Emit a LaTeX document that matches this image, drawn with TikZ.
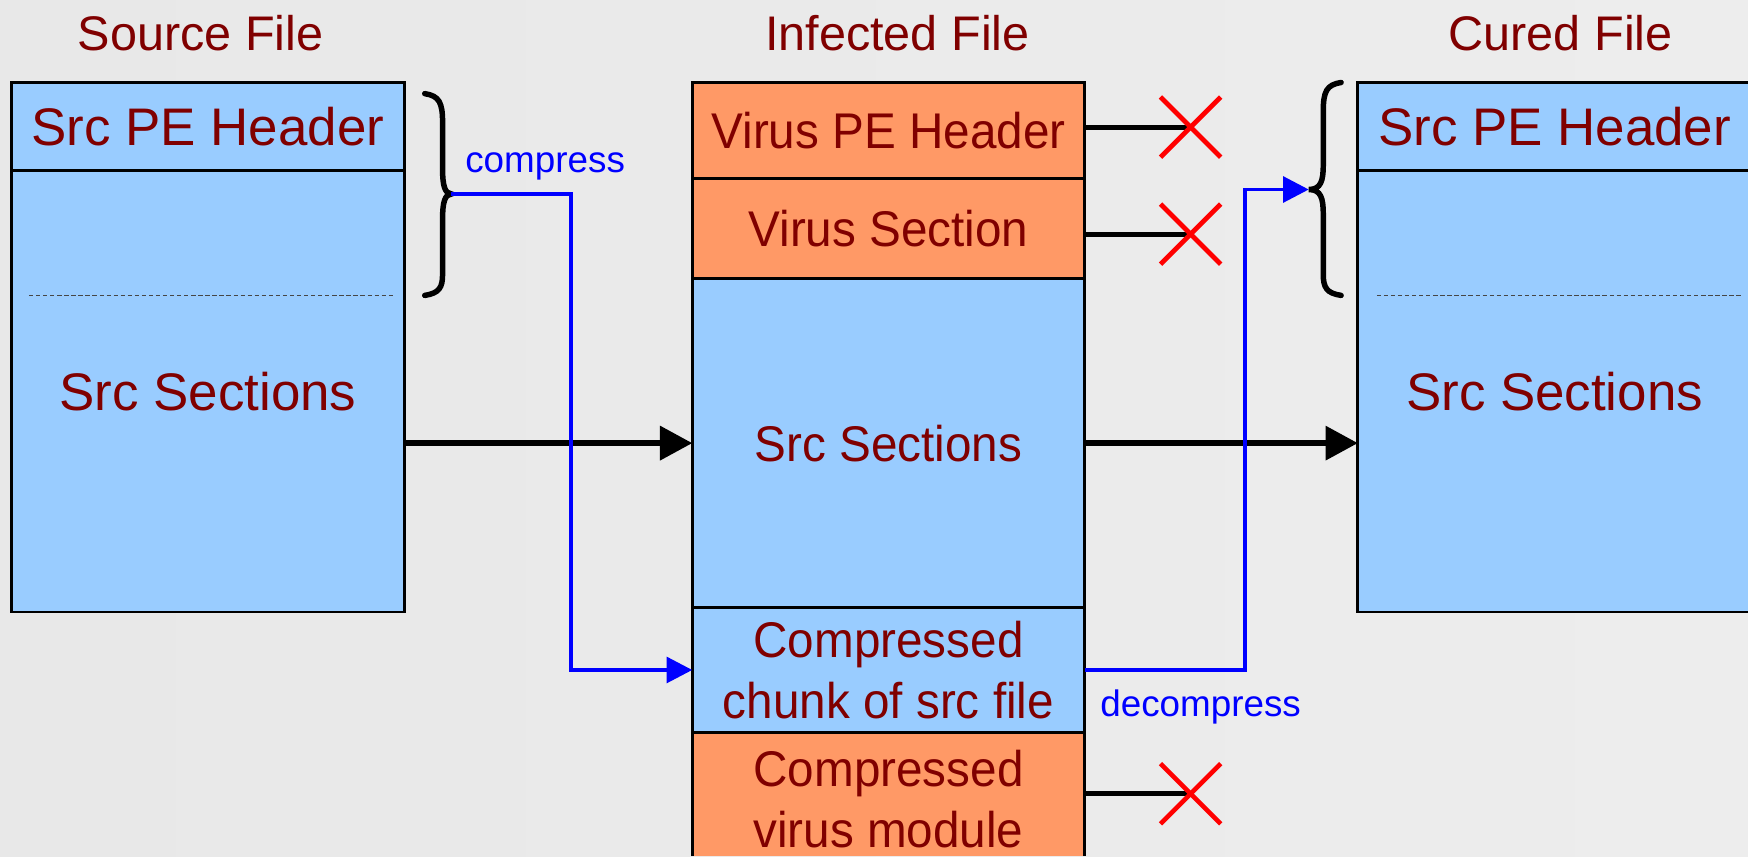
\documentclass[tikz,border=0pt]{standalone}
\usepackage{fontspec}
\setmainfont{Liberation Sans}
\newfontfamily\narrowfont[FakeStretch=0.95]{Liberation Sans}
\usetikzlibrary{arrows.meta,calc}
\definecolor{boxblue}{RGB}{153,204,255}
\definecolor{boxorange}{RGB}{255,153,102}
\definecolor{txtred}{RGB}{128,0,0}
\definecolor{bgl}{RGB}{232,232,232}
\definecolor{bgm}{RGB}{245,245,245}
\definecolor{bgr}{RGB}{237,237,237}
\newcommand\partfont{\fontsize{13.5}{15.6}\selectfont}
\newcommand\midfont{\narrowfont\fontsize{12.8}{15.6}\selectfont}
\newcommand\titlefont{\fontsize{12.4}{14}\selectfont}
\newcommand\labfont{\fontsize{9.4}{11}\selectfont}
\begin{document}
\begin{tikzpicture}[x=0.1mm,y=-0.1mm,
  part/.style={draw=black,line width=0.7pt,minimum width=35.3mm,inner sep=0pt,
    outer sep=0pt,anchor=north west,align=center,text=txtred,font=\partfont},
  bluepart/.style={part,fill=boxblue},
  orangepart/.style={part,fill=boxorange},
  midblue/.style={bluepart,minimum width=35.2mm,font=\midfont},
  midorange/.style={orangepart,minimum width=35.2mm,font=\midfont},
  title/.style={text=txtred,font=\titlefont,inner sep=0pt},
  lab/.style={text=blue,font=\labfont,inner sep=0pt},
  mainarrow/.style={line width=1.4pt,-{Triangle[length=2.9mm,width=3mm]}},
  bluearrow/.style={blue,line width=1pt,-{Triangle[length=2.3mm,width=2.3mm]}},
  cut/.style={line width=1.3pt},
  cross/.style={red,line width=1.2pt},
  brace/.style={line width=1.4pt,line cap=round},
  sepline/.style={dash pattern=on 1.1pt off 0.7pt,gray!55!black,line width=0.35pt}]
\useasboundingbox (0,0) rectangle (1568,768);
\clip (0,0) rectangle (1568,768);
\shade[left color=bgl,middle color=bgm,right color=bgr] (0,0) rectangle (1568,768);

% titles
\node[title] (t1) at (180,30) {Source File};
\node[title] (t2) at (805,30) {Infected File};
\node[title] (t3) at (1400,30) {Cured File};

% source file
\node[bluepart,minimum height=7.9mm] (lh) at (10,74) {Src PE Header};
\node[bluepart,minimum height=39.6mm] (lb) at (10,153) {Src Sections};
\draw[sepline] (26,265) -- (353,265);

% infected file
\node[midorange,minimum height=8.6mm] (mh) at (621,74) {Virus PE Header};
\node[midorange,minimum height=9mm] (ms) at (621,160) {Virus Section};
\node[midblue,minimum height=29.5mm] (msrc) at (621,250) {Src Sections};
\node[midblue,minimum height=11.2mm] (mc) at (621,545) {Compressed\\chunk of src file};
\node[midorange,draw=none,minimum height=11.1mm] (mv) at (621,657) {};
\draw[line width=0.7pt] (mv.south west) -- (mv.north west) -- (mv.north east) -- (mv.south east);
\node[text=txtred,font=\midfont,align=center,inner sep=0pt] (mvt) at (797,717) {Compressed\\virus module};

% cured file
\node[bluepart,minimum height=7.9mm] (rh) at (1218,74) {Src PE Header};
\node[bluepart,minimum height=39.6mm] (rb) at (1218,153) {Src Sections};
\draw[sepline] (1235,265) -- (1562,265);

% braces
\coordinate (bL) at (405,174);
\coordinate (bR) at (1174,170);
\draw[brace] (381,84) .. controls (394,86) and (397,92) .. (397,110) -- (397,152)
  .. controls (397,166) and (399,174) .. (bL)
  .. controls (399,174) and (397,182) .. (397,196) -- (397,246)
  .. controls (397,258) and (394,263) .. (381,265);
\draw[brace] (1203,74) .. controls (1190,76) and (1187,82) .. (1187,100) -- (1187,148)
  .. controls (1187,162) and (1185,170) .. (bR)
  .. controls (1185,170) and (1187,178) .. (1187,192) -- (1187,246)
  .. controls (1187,258) and (1190,263) .. (1203,265);

% main arrows
\draw[mainarrow] (lb.east |- msrc.west) -- (msrc.west);
\draw[mainarrow] (msrc.east) -- (rb.west |- msrc.east);

% compress / decompress
\draw[bluearrow] (bL) -- ++(107,0) |- (mc.west);
\node[lab] (lc) at (489,149) {compress};
\draw[bluearrow] (mc.east) -| ($(bR)+(-57,0)$) -- (bR);
\node[lab] (ld) at (1077,634) {decompress};

% removed parts
\coordinate (x1) at (1068,114);
\coordinate (x2) at (1068,210);
\coordinate (x3) at (1068,712);
\draw[cut] (mh.east |- x1) -- (x1);
\draw[cut] (ms.east |- x2) -- (x2);
\draw[cut] (mv.east |- x3) -- (x3);
\foreach \c in {x1,x2,x3}{
  \draw[cross] ($(\c)+(-27,-27)$) -- ($(\c)+(27,27)$);
  \draw[cross] ($(\c)+(-27,27)$) -- ($(\c)+(27,-27)$);
}
\end{tikzpicture}
\end{document}
